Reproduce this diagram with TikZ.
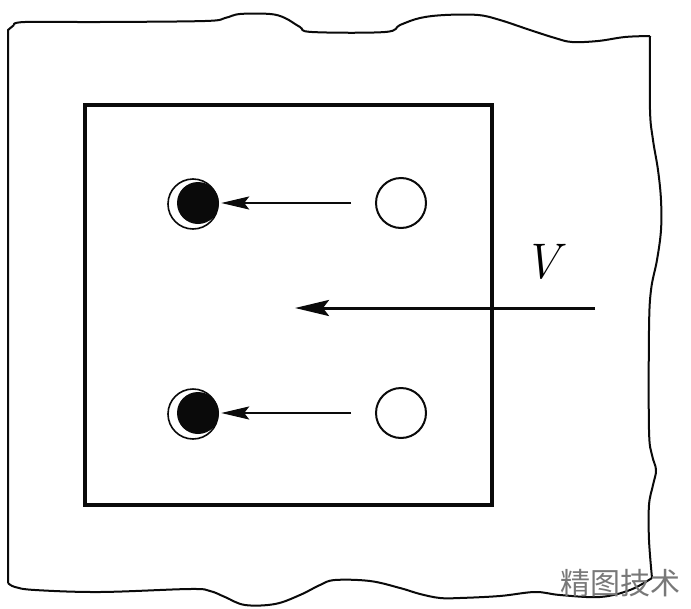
\documentclass[tikz,border=0pt]{standalone}
\usepackage{fontspec}
\usepackage{tikz}
\usetikzlibrary{arrows.meta}
\newfontfamily\cjkfont{Noto Sans CJK SC}
\definecolor{inkblack}{RGB}{10,10,10}
\definecolor{markgray}{RGB}{120,120,120}
\tikzset{
  edgeline/.style={line width=2pt, color=inkblack, line join=round},
  chamber/.style={line width=4pt, color=inkblack},
  fullion/.style={circle, fill=inkblack, minimum size=42pt, inner sep=0pt},
  ionring/.style={circle, draw=inkblack, line width=1.6pt, fill=white,
    minimum size=50pt, inner sep=0pt},
  emptyion/.style={circle, draw=inkblack, line width=2pt, fill=white,
    minimum size=50pt, inner sep=0pt},
  ionarrow/.style={-{Stealth[length=28pt, width=13pt, inset=5pt]},
    line width=2pt, color=inkblack, shorten <=24pt, shorten >=2pt},
  bigarrow/.style={-{Stealth[length=34pt, width=16pt, inset=6pt]},
    line width=3pt, color=inkblack},
}

\begin{document}
\begin{tikzpicture}[x=1pt, y=-1pt]
  \useasboundingbox (0,0) rectangle (691,608);
  % torn sheet
  \draw[edgeline] (8,583) -- (8,30) -- (14,25);
  \draw[edgeline] plot[smooth, tension=0.6] coordinates {(14,25) (25,22) (100,22)
    (205,21) (225,18) (240,14) (270,14) (285,18) (300,27) (312,32) (385,32)
    (400,25) (420,18) (445,15) (478,15) (500,20) (530,30) (555,38) (572,42)
    (598,41) (625,37) (650,36)};
  \draw[edgeline] plot[smooth, tension=0.6] coordinates {(650,36) (650,110)
    (653,140) (658,170) (661,200) (661,230) (657,260) (651,290) (649,330)
    (649,430) (652,455) (656,470) (653,485) (649,505) (649,540) (652,578)};
  \draw[edgeline] plot[smooth, tension=0.6] coordinates {(652,578) (630,590)
    (600,597) (560,595) (535,592) (500,596) (460,598) (440,598) (420,594)
    (400,588) (370,581) (335,580) (320,585) (300,595) (275,604) (245,605)
    (225,597) (210,591) (190,589) (100,592) (35,590) (15,587) (8,583)};
  % inner box
  \draw[chamber] (85,105) rectangle (492,505);
  % ions
  \node[ionring] (ringtop) at (193,204) {};
  \node[fullion] (fulltop) at (198,203) {};
  \node[emptyion] (emptytop) at (401,203) {};
  \node[ionring] (ringbot) at (193,414) {};
  \node[fullion] (fullbot) at (198,413) {};
  \node[emptyion] (emptybot) at (401,413) {};
  \draw[ionarrow] (emptytop) -- (fulltop);
  \draw[ionarrow] (emptybot) -- (fullbot);
  % velocity
  \coordinate (vtail) at (595,308);
  \coordinate (vhead) at (295,308);
  \draw[bigarrow] (vtail) -- (vhead);
  \node[font=\fontsize{50}{50}\selectfont\itshape, inner sep=0pt] (vlabel) at (542,262) {V};
  \node[text=markgray, font=\cjkfont\fontsize{30}{30}\selectfont] (mark) at (620,583) {精图技术};
\end{tikzpicture}
\end{document}
